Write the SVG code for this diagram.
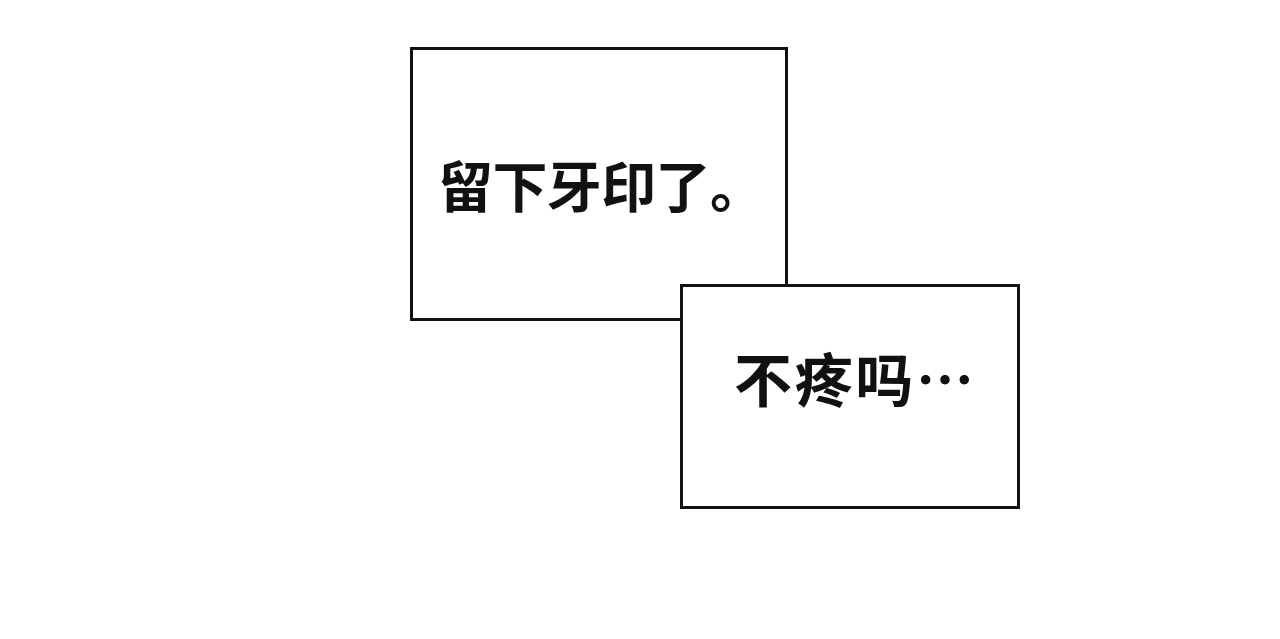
<svg xmlns="http://www.w3.org/2000/svg" width="1280" height="639" viewBox="0 0 1280 639">
<style>
.box{fill:#fff;stroke:#111;stroke-width:3}
.t{font-family:"Noto Sans CJK SC","Noto Sans",sans-serif;font-weight:bold;fill:#111}
</style>
<rect width="1280" height="639" fill="#fff"/>
<g id="node1"><rect class="box" x="411.5" y="48.5" width="375" height="271"/>
<text class="t" x="438" y="207" font-size="55" textLength="327">留下牙印了。</text></g>
<g id="node2"><rect class="box" x="681.5" y="285.5" width="337" height="222"/>
<text class="t" x="734" y="402" font-size="58" textLength="240">不疼吗…</text></g>
<g id="connectors"/>
</svg>
